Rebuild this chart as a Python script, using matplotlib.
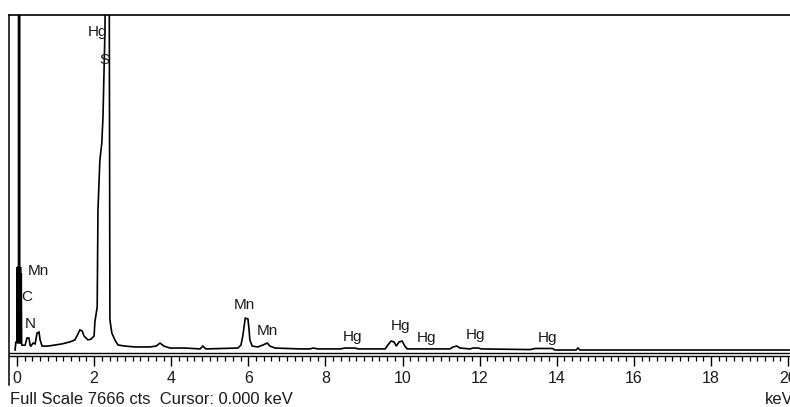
import matplotlib
matplotlib.use("Agg")
import matplotlib.pyplot as plt
from matplotlib.lines import Line2D

plt.rcParams['font.family'] = ['Liberation Sans', 'DejaVu Sans']

# --- EDS spectrum (energy in keV, counts) ---
energy_kev = [
    -0.05, -0.03, 0.00, 0.00, 0.02, 0.03, 0.04, 0.04, 0.07, 0.07,
    0.08, 0.09, 0.10, 0.11, 0.12, 0.13,
    0.21, 0.26, 0.31, 0.34, 0.36, 0.42, 0.47, 0.52, 0.57, 0.60,
    0.65, 0.80, 0.99, 1.17, 1.37, 1.50, 1.58, 1.63, 1.69, 1.74,
    1.84, 1.92, 2.00, 2.02, 2.08, 2.10, 2.15, 2.20, 2.23, 2.28,
    2.31, 2.39, 2.41, 2.46, 2.54, 2.62, 2.80, 3.06, 3.45, 3.61,
    3.71, 3.81, 3.97, 4.36, 4.75, 4.82, 4.90, 5.73, 5.81, 5.86,
    5.92, 5.99, 6.02, 6.04, 6.10, 6.25, 6.38, 6.49, 6.56, 6.69,
    7.34, 7.60, 7.68, 7.81, 8.38, 8.51, 8.77, 8.85, 9.55, 9.62,
    9.70, 9.78, 9.84, 9.91, 9.99, 10.06, 10.12, 11.23, 11.31, 11.41,
    11.49, 11.75, 11.83, 11.96, 12.04, 13.31, 13.44, 13.88, 13.96, 14.50,
    14.55, 14.60, 20.05,
]
counts = [
    0, 180, 180, 1900, 150, 1900, 1900, 9000, 9000, 1900,
    150, 1900, 150, 1750, 150, 110,
    110, 275, 275, 110, 90, 160, 140, 390, 410, 230,
    90, 90, 115, 140, 185, 230, 365, 460, 435, 320,
    230, 250, 320, 640, 985, 3200, 4350, 4740, 5330, 7250,
    9500, 9500, 690, 390, 230, 115, 90, 70, 70, 90,
    160, 90, 45, 45, 25, 90, 25, 45, 115, 340,
    730, 710, 460, 230, 90, 70, 115, 160, 90, 45,
    25, 25, 45, 25, 25, 45, 45, 25, 25, 115,
    205, 185, 90, 185, 205, 90, 25, 25, 70, 90,
    45, 25, 45, 45, 25, 10, 35, 35, 0, 0,
    45, 0, 0,
]

# peak labels
label_text = ["Hg", "S", "Mn", "C", "N", "Mn", "Mn", "Hg", "Hg", "Hg", "Hg", "Hg"]
label_kev = [2.08, 2.26, 0.56, 0.24, 0.35, 5.89, 6.49, 8.69, 9.94, 10.61, 11.88, 13.77]
label_cts = [7275, 6635, 1810, 1213, 595, 1030, 435, 300, 550, 275, 345, 275]

full_scale = 7666
major_ticks = [0, 2, 4, 6, 8, 10, 12, 14, 16, 18, 20]

W, H = 790, 407
fig = plt.figure(figsize=(W / 100, H / 100), dpi=100)
fig.patch.set_facecolor("white")

# axes box: left 9px, top 15px, bottom spine 356px, runs off the right edge
ax = fig.add_axes([9 / W, (H - 356) / H, (W - 9) / W, (356 - 15) / H])
ax.plot(energy_kev, counts, color="black", lw=1.2, solid_joinstyle="miter")

ax.set_xlim(-0.2075, 20.05)
ax.set_ylim(-137, full_scale)
# second baseline line just above the axis
ax.axhline(-69, color="black", lw=1.0)

for txt, xk, yc in zip(label_text, label_kev, label_cts):
    ax.text(xk, yc, txt, ha="center", va="center", fontsize=11, color="#1a1a1a")

ax.set_xticks(major_ticks)
ax.set_xticks([i * 0.2 for i in range(0, 101)], minor=True)
ax.set_yticks([])
ax.tick_params(axis="x", which="major", direction="out", length=7.5, width=1.0,
               pad=3, labelsize=11.5, labelcolor="#1a1a1a")
ax.tick_params(axis="x", which="minor", direction="out", length=3.6, width=0.9)

ax.spines["left"].set_visible(False)
ax.spines["right"].set_color("#cfcfcf")
ax.spines["top"].set_linewidth(1.2)
ax.spines["bottom"].set_linewidth(1.0)

# left frame line reaches down past the tick labels
fig.add_artist(Line2D([9 / W, 9 / W], [(H - 385) / H, (H - 15) / H],
                      color="black", lw=1.1, transform=fig.transFigure))

fig.text(10 / W, (H - 399) / H, "Full Scale 7666 cts  Cursor: 0.000 keV",
         ha="left", va="center", fontsize=11.9, color="#1a1a1a")
fig.text(765 / W, (H - 399) / H, "keV", ha="left", va="center",
         fontsize=11.9, color="#1a1a1a")

fig.savefig("out.png", dpi=100)
